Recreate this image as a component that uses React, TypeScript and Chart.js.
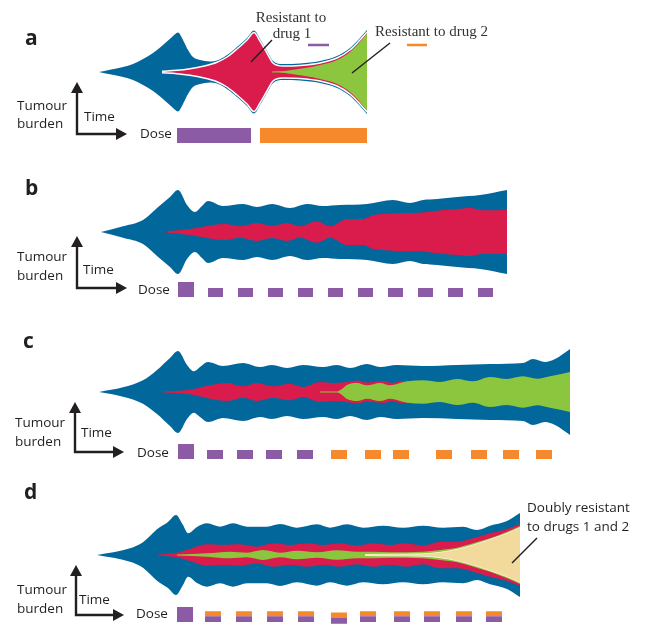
import React, { useEffect, useRef } from "react";
import { Chart, registerables } from "chart.js";

Chart.register(...registerables);

// ---------- colours ----------
const BLUE = "#02679b";
const RED = "#d91c4c";
const GREEN = "#8cc63f";
const BEIGE = "#f2d99c";
const PURPLE = "#8b5ca5";
const ORANGE = "#f5892c";
const INK = "#231f20";

// ---------- data: time (t = 0 at tumour onset) and half-width of each clone ----------
// Panel a
const aBlueTime = [0, 11, 24, 34, 44, 54, 64, 73, 79, 84, 89, 94, 101, 111, 118, 128, 138, 148, 155, 161, 168, 174, 184, 201, 221, 238, 251, 261, 268];
const aBlueWidth = [0, 2.3, 5, 8, 13, 19, 27, 35, 39.5, 32, 22, 15, 12, 10.5, 11.5, 17, 25, 34, 41.5, 33, 21, 11, 8, 8.5, 11, 16, 24, 34, 42];
const aRedTime = [63, 78, 91, 104, 118, 128, 138, 148, 155, 161, 168, 174, 184, 201, 221, 238, 251, 261, 268];
const aRedWidth = [0.8, 1.7, 3.3, 5.7, 9.7, 15, 23, 32, 39.5, 31, 19, 9, 6, 6.5, 9, 14, 22, 32, 40];
const aGreenTime = [173, 186, 196, 206, 221, 238, 251, 261, 268];
const aGreenWidth = [0.6, 1, 2.5, 4, 7, 12, 20, 30, 38.5];
const aPurpleStart = [78];
const aPurpleEnd = [152];
const aPurpleDose = [1];
const aOrangeStart = [161];
const aOrangeEnd = [268];
const aOrangeDose = [1];

// Panel b
const bBlueTime = [2, 24, 44, 58, 71, 79, 88, 96, 103, 109, 124, 144, 158, 173, 191, 208, 224, 241, 268, 294, 311, 324, 338, 358, 381, 408];
const bBlueWidth = [0, 5.7, 12, 24, 35, 42, 27, 20, 26, 31, 26, 28, 25, 28, 24, 28, 26, 27, 28, 32, 29, 32, 33, 35, 37, 42];
const bRedTime = [67, 91, 114, 126, 141, 158, 173, 188, 201, 218, 231, 248, 264, 274, 281, 301, 311, 328, 344, 358, 371, 384, 408];
const bRedWidth = [0.5, 3, 7, 8, 5.7, 9, 6, 9, 5.7, 10.7, 5.7, 13, 13, 17, 17.7, 19, 19, 20, 22, 23, 24, 21.7, 22];
const bPurpleStart = [79, 109, 139, 169, 199, 229, 259, 289, 319, 349, 379];
const bPurpleEnd = [95, 124, 154, 184, 214, 244, 274, 304, 334, 364, 394];
const bPurpleDose = [1, 0.6, 0.6, 0.6, 0.6, 0.6, 0.6, 0.6, 0.6, 0.6, 0.6];

// Panel c
const cBlueTime = [0, 24, 44, 58, 71, 79, 88, 95, 101, 109, 124, 144, 161, 173, 188, 204, 224, 238, 251, 268, 281, 298, 324, 358, 391, 424, 434, 446, 456, 471];
const cBlueWidth = [0, 4.7, 11.7, 22, 34, 41, 27, 20.7, 25, 30, 26, 29, 25, 27, 24, 27, 25, 27, 24, 28, 25, 27, 26, 27, 28, 29, 33, 30, 33, 43];
const cRedTime = [64, 76, 91, 111, 128, 144, 158, 174, 191, 204, 221, 234, 248, 258, 268, 284, 294, 301, 311];
const cRedWidth = [0.5, 1, 2.3, 6.7, 9, 5.7, 9, 5.7, 8.3, 5, 10, 9, 10, 11.5, 9.5, 11, 9, 11, 10.5];
const cGreenTime = [221, 238, 243, 248, 258, 268, 281, 291, 308, 324, 341, 358, 374, 391, 408, 424, 438, 451, 471];
const cGreenWidth = [0.5, 0.6, 3, 7, 9, 6.7, 9, 6.7, 10.7, 11.7, 10, 13, 10.7, 15, 13, 15.7, 13.3, 15.7, 20];
const cPurpleStart = [79, 108, 138, 167, 198];
const cPurpleEnd = [95, 124, 154, 183, 214];
const cPurpleDose = [1, 0.6, 0.6, 0.6, 0.6];
const cOrangeStart = [232, 266, 294, 337, 372, 404, 437];
const cOrangeEnd = [248, 282, 310, 353, 388, 420, 453];
const cOrangeDose = [0.6, 0.6, 0.6, 0.6, 0.6, 0.6, 0.6];

// Panel d
const dBlueTime = [-2, 31, 44, 58, 69, 77, 84, 89, 98, 108, 121, 134, 148, 168, 181, 198, 218, 231, 248, 264, 284, 304, 324, 344, 364, 378, 391, 408, 421];
const dBlueWidth = [0, 6.7, 12.7, 25.7, 33, 40, 30, 21.7, 28, 31.7, 28.3, 31.7, 28.3, 28.3, 31, 27.3, 30.7, 27.3, 30.7, 27.3, 29.3, 27.3, 29.3, 27.3, 28.3, 25, 29.3, 34, 42];
const dRedTime = [59, 76, 91, 108, 124, 141, 158, 174, 191, 208, 224, 241, 258, 274, 291, 308, 324, 341, 358, 374, 391, 408, 421];
const dRedWidth = [0.5, 2, 6, 10.7, 10, 10.7, 8.3, 11.7, 10, 11.7, 10, 11.7, 9.3, 11.7, 10, 11.7, 9.3, 13.3, 13.3, 16.7, 21.7, 26, 31];
const dGreenTime = [78, 108, 131, 148, 164, 181, 198, 218, 238, 258, 274, 291, 324, 341, 358, 374, 391, 408, 421];
const dGreenWidth = [0.5, 1.7, 3.3, 2.3, 5, 2.3, 4.3, 2.7, 4.7, 3.3, 3.3, 2.7, 3.3, 5, 7.3, 11.7, 16.7, 23.3, 29];
const dBeigeTime = [266, 291, 324, 341, 358, 374, 391, 408, 421];
const dBeigeWidth = [0.5, 0.8, 1.2, 2.7, 5.7, 10, 15.7, 21.7, 27.5];
const dPurpleStart = [78, 106, 137, 168, 199, 232, 261, 295, 325, 357, 387];
const dPurpleEnd = [94, 122, 153, 184, 215, 248, 277, 311, 341, 373, 403];
const dPurpleLow = [0, 0, 0, 0, 0, -0.11, 0, 0, 0, 0, 0];
const dPurpleDose = [1, 0.38, 0.38, 0.38, 0.38, 0.27, 0.38, 0.38, 0.38, 0.38, 0.38];
const dOrangeStart = [106, 137, 168, 199, 232, 261, 295, 325, 357, 387];
const dOrangeEnd = [122, 153, 184, 215, 248, 277, 311, 341, 373, 403];
const dOrangeLow = [0.38, 0.38, 0.38, 0.38, 0.27, 0.38, 0.38, 0.38, 0.38, 0.38];
const dOrangeDose = [0.71, 0.71, 0.71, 0.71, 0.63, 0.71, 0.71, 0.71, 0.71, 0.71];

// ---------- scale settings ----------
const TIME_MIN = -99;
const TIME_MAX = 549;
const DOSE_PX = 15; // pixels per unit dose

const SANS = '13.5px "Open Sans", "Noto Sans", sans-serif';
const SERIF = '15px "Liberation Serif", serif';

type Band = { t: number[]; w: number[]; color: string; edge?: string; edgeWidth?: number };
type Dose = { start: number[]; end: number[]; low?: number[]; high: number[]; color: string };

function bandDatasets(b: Band) {
  const common = {
    yAxisID: "y",
    pointRadius: 0,
    cubicInterpolationMode: "monotone",
    backgroundColor: b.color,
    borderColor: b.edge || "rgba(0,0,0,0)",
    borderWidth: b.edge ? b.edgeWidth || 1 : 0,
  };
  return [
    { ...common, data: b.t.map((x, i) => ({ x, y: b.w[i] })), fill: false },
    { ...common, data: b.t.map((x, i) => ({ x, y: -b.w[i] })), fill: "-1" },
  ];
}

function doseDatasets(d: Dose) {
  const lo: { x: number; y: number }[] = [];
  const hi: { x: number; y: number }[] = [];
  d.start.forEach((s, i) => {
    lo.push({ x: s, y: d.low ? d.low[i] : 0 }, { x: d.end[i], y: 0 });
    hi.push({ x: s, y: d.high[i] }, { x: d.end[i], y: 0 });
  });
  const common = {
    yAxisID: "dose",
    stepped: true,
    pointRadius: 0,
    borderWidth: 0,
    borderColor: "rgba(0,0,0,0)",
    backgroundColor: d.color,
  };
  return [
    { ...common, data: lo, fill: false },
    { ...common, data: hi, fill: "-1" },
  ];
}

type Layout = {
  letterX: number; letterY: number;
  axisX: number; tipY: number; cornerY: number; rightX: number;
  tumourX: number; tumourY: number; burdenY: number;
  timeX: number; timeY: number; doseX: number; doseY: number;
};

type Panel = {
  letter: string;
  top: number;
  height: number;
  centre: number;
  doseBase: number;
  bands: Band[];
  doses: Dose[];
  lay: Layout;
  extra?: (ctx: CanvasRenderingContext2D) => void;
};

function line(ctx: CanvasRenderingContext2D, x0: number, y0: number, x1: number, y1: number, w: number, c: string) {
  ctx.beginPath();
  ctx.moveTo(x0, y0);
  ctx.lineTo(x1, y1);
  ctx.lineWidth = w;
  ctx.strokeStyle = c;
  ctx.stroke();
}

const PANELS: Panel[] = [
  {
    letter: "a", top: 0, height: 150, centre: 72, doseBase: 143,
    bands: [
      { t: aGreenTime, w: aGreenWidth, color: GREEN },
      { t: aRedTime, w: aRedWidth, color: RED, edge: "#ffffff", edgeWidth: 1.5 },
      { t: aBlueTime, w: aBlueWidth, color: BLUE },
    ],
    doses: [
      { start: aPurpleStart, end: aPurpleEnd, high: aPurpleDose, color: PURPLE },
      { start: aOrangeStart, end: aOrangeEnd, high: aOrangeDose, color: ORANGE },
    ],
    lay: { letterX: 25, letterY: 45, axisX: 77, tipY: 82, cornerY: 134, rightX: 127, tumourX: 17, tumourY: 106, burdenY: 124, timeX: 84, timeY: 117, doseX: 140, doseY: 134 },
    extra: (ctx) => {
      ctx.font = SERIF;
      ctx.fillStyle = "#333333";
      ctx.textBaseline = "alphabetic";
      ctx.textAlign = "center";
      ctx.fillText("Resistant to", 291, 22);
      ctx.fillText("drug 1", 292, 38);
      ctx.textAlign = "left";
      ctx.fillText("Resistant to drug 2", 375, 36);
      line(ctx, 308, 45, 329, 45, 2.5, PURPLE);
      line(ctx, 407, 45, 427, 45, 2.5, ORANGE);
      line(ctx, 272, 40, 251, 62, 1.4, INK);
      line(ctx, 390, 43, 352, 73, 1.4, INK);
    },
  },
  {
    letter: "b", top: 150, height: 155, centre: 232, doseBase: 297,
    bands: [
      { t: bRedTime, w: bRedWidth, color: RED },
      { t: bBlueTime, w: bBlueWidth, color: BLUE },
    ],
    doses: [{ start: bPurpleStart, end: bPurpleEnd, high: bPurpleDose, color: PURPLE }],
    lay: { letterX: 25, letterY: 195, axisX: 77, tipY: 236, cornerY: 288, rightX: 127, tumourX: 17, tumourY: 257, burdenY: 276, timeX: 83, timeY: 270, doseX: 138, doseY: 290 },
  },
  {
    letter: "c", top: 305, height: 160, centre: 392, doseBase: 459,
    bands: [
      { t: cGreenTime, w: cGreenWidth, color: GREEN },
      { t: cRedTime, w: cRedWidth, color: RED },
      { t: cBlueTime, w: cBlueWidth, color: BLUE },
    ],
    doses: [
      { start: cPurpleStart, end: cPurpleEnd, high: cPurpleDose, color: PURPLE },
      { start: cOrangeStart, end: cOrangeEnd, high: cOrangeDose, color: ORANGE },
    ],
    lay: { letterX: 23, letterY: 348, axisX: 75, tipY: 402, cornerY: 452, rightX: 124, tumourX: 15, tumourY: 423, burdenY: 442, timeX: 81, timeY: 433, doseX: 137, doseY: 453 },
  },
  {
    letter: "d", top: 465, height: 159, centre: 555, doseBase: 622,
    bands: [
      { t: dBeigeTime, w: dBeigeWidth, color: BEIGE, edge: "#f8efd2", edgeWidth: 1 },
      { t: dGreenTime, w: dGreenWidth, color: GREEN },
      { t: dRedTime, w: dRedWidth, color: RED },
      { t: dBlueTime, w: dBlueWidth, color: BLUE },
    ],
    doses: [
      { start: dPurpleStart, end: dPurpleEnd, low: dPurpleLow, high: dPurpleDose, color: PURPLE },
      { start: dOrangeStart, end: dOrangeEnd, low: dOrangeLow, high: dOrangeDose, color: ORANGE },
    ],
    lay: { letterX: 24, letterY: 499, axisX: 76, tipY: 565, cornerY: 615, rightX: 124, tumourX: 17, tumourY: 590, burdenY: 609, timeX: 79, timeY: 600, doseX: 136, doseY: 614 },
    extra: (ctx) => {
      ctx.font = SANS;
      ctx.fillStyle = INK;
      ctx.textBaseline = "middle";
      ctx.textAlign = "left";
      ctx.fillText("Doubly resistant", 527, 508);
      ctx.fillText("to drugs 1 and 2", 527, 527);
      line(ctx, 537, 538, 512, 563, 1.4, INK);
    },
  },
];

function decoPlugin(p: Panel) {
  return {
    id: "deco" + p.letter,
    afterDraw(chart: any) {
      const ctx: CanvasRenderingContext2D = chart.ctx;
      const L = p.lay;
      ctx.save();
      ctx.translate(0, -p.top);
      // panel letter
      ctx.fillStyle = INK;
      ctx.font = 'bold 21px "Open Sans", "Noto Sans", sans-serif';
      ctx.textAlign = "left";
      ctx.textBaseline = "alphabetic";
      ctx.fillText(p.letter, L.letterX, L.letterY);
      // axes arrows
      ctx.beginPath();
      ctx.moveTo(L.axisX, L.tipY + 8);
      ctx.lineTo(L.axisX, L.cornerY);
      ctx.lineTo(L.rightX - 8, L.cornerY);
      ctx.lineWidth = 2.4;
      ctx.lineJoin = "miter";
      ctx.strokeStyle = INK;
      ctx.stroke();
      ctx.beginPath();
      ctx.moveTo(L.axisX, L.tipY);
      ctx.lineTo(L.axisX - 6, L.tipY + 11);
      ctx.lineTo(L.axisX + 6, L.tipY + 11);
      ctx.closePath();
      ctx.fill();
      ctx.beginPath();
      ctx.moveTo(L.rightX, L.cornerY);
      ctx.lineTo(L.rightX - 11, L.cornerY - 6);
      ctx.lineTo(L.rightX - 11, L.cornerY + 6);
      ctx.closePath();
      ctx.fill();
      // axis texts
      ctx.font = SANS;
      ctx.textBaseline = "middle";
      ctx.fillText("Tumour", L.tumourX, L.tumourY);
      ctx.fillText("burden", L.tumourX, L.burdenY);
      ctx.fillText("Time", L.timeX, L.timeY);
      ctx.fillText("Dose", L.doseX, L.doseY);
      if (p.extra) p.extra(ctx);
      ctx.restore();
    },
  };
}

function buildConfig(p: Panel): any {
  const datasets = [
    ...p.doses.flatMap(doseDatasets),
    ...p.bands.flatMap(bandDatasets),
  ];
  const c = p.centre - p.top;
  const b = p.doseBase - p.top;
  return {
    type: "line",
    data: { datasets },
    options: {
      animation: false,
      responsive: false,
      maintainAspectRatio: false,
      events: [],
      layout: { padding: 0 },
      plugins: {
        legend: { display: false },
        tooltip: { enabled: false },
        title: { display: false },
      },
      scales: {
        x: { type: "linear", display: false, min: TIME_MIN, max: TIME_MAX },
        y: { type: "linear", axis: "y", display: false, min: c - p.height, max: c },
        dose: { type: "linear", axis: "y", position: "left", display: false, min: (b - p.height) / DOSE_PX, max: b / DOSE_PX },
      },
    },
    plugins: [decoPlugin(p)],
  };
}

export default function App() {
  const refs = useRef<(HTMLCanvasElement | null)[]>([]);
  useEffect(() => {
    const charts = PANELS.map((p, i) => new Chart(refs.current[i] as HTMLCanvasElement, buildConfig(p)));
    return () => {
      charts.forEach((ch) => ch.destroy());
    };
  }, []);
  return (
    <div style={{ position: "absolute", left: 0, top: 0, width: 648, height: 624, background: "#ffffff" }}>
      {PANELS.map((p, i) => (
        <canvas
          key={p.letter}
          ref={(el) => {
            refs.current[i] = el;
          }}
          width={648}
          height={p.height}
          style={{ position: "absolute", left: 0, top: p.top, width: 648, height: p.height, display: "block" }}
        />
      ))}
    </div>
  );
}
